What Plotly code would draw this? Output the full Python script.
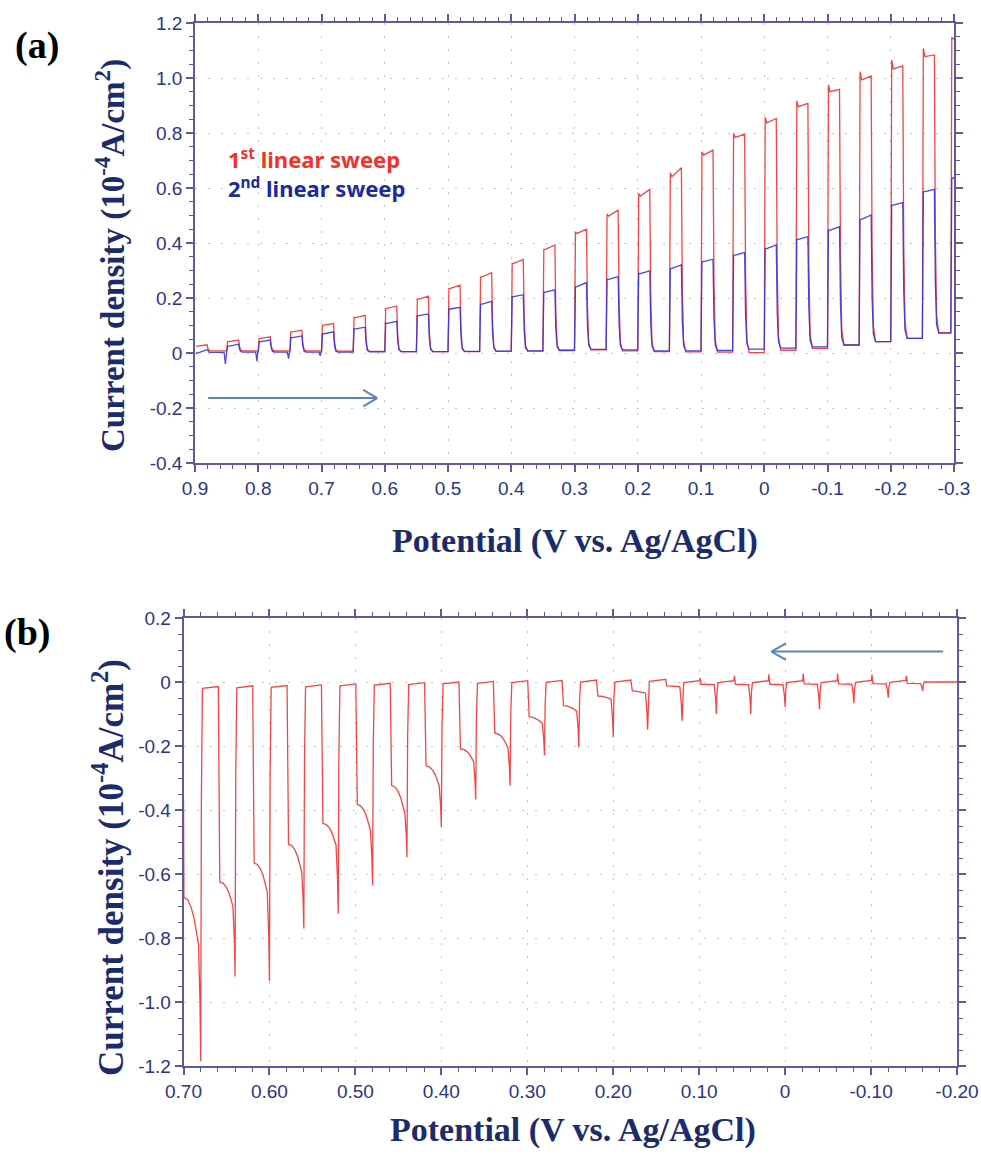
import plotly.graph_objects as go

# ---------------- Panel (a): chopped linear sweeps ----------------
RISE_A = [0.90, 0.85, 0.80, 0.75, 0.70, 0.65, 0.60, 0.55, 0.50, 0.45, 0.40, 0.35, 0.30,
          0.25, 0.20, 0.15, 0.10, 0.05, 0.00, -0.05, -0.10, -0.15, -0.20, -0.25, -0.295]
RED_SPIKE_A = [0.025, 0.041, 0.053, 0.077, 0.101, 0.129, 0.162, 0.196, 0.235, 0.277, 0.326, 0.377,
               0.440, 0.505, 0.580, 0.655, 0.732, 0.799, 0.857, 0.917, 0.975, 1.023, 1.065, 1.108, 1.148]
RED_DIP_A = [0.025, 0.041, 0.053, 0.077, 0.101, 0.129, 0.162, 0.196, 0.235, 0.277, 0.326, 0.377,
             0.435, 0.498, 0.571, 0.641, 0.720, 0.784, 0.837, 0.896, 0.950, 0.993, 1.033, 1.078, 1.140]
RED_END_A = [0.030, 0.047, 0.059, 0.083, 0.107, 0.137, 0.171, 0.207, 0.247, 0.292, 0.340, 0.393,
             0.450, 0.520, 0.595, 0.674, 0.738, 0.796, 0.853, 0.908, 0.959, 1.007, 1.044, 1.084, 1.140]
RED_OFF_A = [0.008, 0.008, 0.008, 0.008, 0.007, 0.006, 0.005, 0.005, 0.005, 0.006, 0.007, 0.009,
             0.011, 0.008, 0.005, 0.004, 0.003, 0.001, 0.010, 0.017, 0.029, 0.041, 0.053, 0.074]

BLUE_START_A = [0.000, 0.025, 0.041, 0.056, 0.070, 0.088, 0.108, 0.136, 0.160, 0.178, 0.205, 0.221,
                0.241, 0.268, 0.289, 0.308, 0.332, 0.356, 0.380, 0.413, 0.447, 0.486, 0.538, 0.587, 0.635]
BLUE_END_A = [0.012, 0.032, 0.047, 0.062, 0.077, 0.094, 0.115, 0.142, 0.166, 0.188, 0.212, 0.230,
              0.256, 0.278, 0.299, 0.320, 0.341, 0.365, 0.393, 0.423, 0.459, 0.502, 0.547, 0.595, 0.640]
BLUE_OFF_A = [0.002, 0.003, 0.003, 0.003, 0.003, 0.004, 0.005, 0.005, 0.006, 0.007, 0.008, 0.010,
              0.013, 0.011, 0.008, 0.008, 0.009, 0.014, 0.018, 0.022, 0.029, 0.041, 0.053, 0.072]
BLUE_NEG_A = [0.0, -0.040, -0.030, -0.020, -0.010, 0.0, 0.0, 0.0, 0.0, 0.0, 0.0, 0.0,
              0.0, 0.0, 0.0, 0.0, 0.0, 0.0, 0.0, 0.0, 0.0, 0.0, 0.0, 0.0, 0.0]

# ---------------- Panel (b): chopped cathodic sweep ----------------
SPIKE_B = [0.68, 0.64, 0.60, 0.56, 0.52, 0.48, 0.44, 0.40, 0.36, 0.32, 0.28, 0.24, 0.20,
           0.16, 0.12, 0.08, 0.04, 0.00, -0.04, -0.08, -0.12, -0.16]
DROP_B = [-0.673, -0.625, -0.566, -0.507, -0.442, -0.383, -0.324, -0.262, -0.209, -0.160, -0.109,
          -0.074, -0.044, -0.028, -0.012, -0.007, -0.007, -0.007, -0.006, -0.006, -0.005, -0.004]
PRE_B = [-0.820, -0.700, -0.657, -0.593, -0.510, -0.463, -0.410, -0.324, -0.248, -0.205, -0.130,
         -0.092, -0.054, -0.035, -0.015, -0.008, -0.008, -0.008, -0.007, -0.007, -0.006, -0.005]
MIN_B = [-1.184, -0.920, -0.934, -0.770, -0.724, -0.636, -0.547, -0.453, -0.367, -0.324, -0.229,
         -0.203, -0.173, -0.149, -0.121, -0.100, -0.100, -0.078, -0.085, -0.066, -0.049, -0.028]
BUMP_B = [0.0, 0.0, 0.0, 0.0, 0.0, 0.0, 0.0, 0.0, 0.0, 0.0, 0.0, 0.0, 0.0,
          0.0, 0.010, 0.013, 0.019, 0.024, 0.026, 0.026, 0.023, 0.019]
PLAT_B = [-0.020, -0.018, -0.017, -0.015, -0.012, -0.010, -0.008, -0.006, -0.004, -0.002, -0.001,
          0.000, 0.000, 0.002, -0.002, -0.002, -0.002, -0.002, -0.002, -0.001, -0.001, 0.000]
START_B = -0.37

# Axis ticks
XT_A = [0.9, 0.8, 0.7, 0.6, 0.5, 0.4, 0.3, 0.2, 0.1, 0.0, -0.1, -0.2, -0.3]
XT_A_TXT = ["0.9", "0.8", "0.7", "0.6", "0.5", "0.4", "0.3", "0.2", "0.1", "0", "-0.1", "-0.2", "-0.3"]
YT_A = [1.2, 1.0, 0.8, 0.6, 0.4, 0.2, 0.0, -0.2, -0.4]
YT_A_TXT = ["1.2", "1.0", "0.8", "0.6", "0.4", "0.2", "0", "-0.2", "-0.4"]
XT_B = [0.7, 0.6, 0.5, 0.4, 0.3, 0.2, 0.1, 0.0, -0.1, -0.2]
XT_B_TXT = ["0.70", "0.60", "0.50", "0.40", "0.30", "0.20", "0.10", "0", "-0.10", "-0.20"]
YT_B = [0.2, 0.0, -0.2, -0.4, -0.6, -0.8, -1.0, -1.2]
YT_B_TXT = ["0.2", "0", "-0.2", "-0.4", "-0.6", "-0.8", "-1.0", "-1.2"]

# Arrows (tail x, tip x, y)
ARROW_A = (0.879, 0.612, -0.164)
ARROW_B = (-0.184, 0.016, 0.095)


def build_a(spike, dip, end, off, neg, xmin=-0.30):
    xs, ys = [], []
    for k, r in enumerate(RISE_A):
        if k > 0:
            prev = off[k - 1]
            if neg[k] != 0:
                xs += [r + 0.004, r + 0.002, r + 0.0008]
                ys += [prev, neg[k], prev]
            xs.append(r); ys.append(prev)
        pts = [(r - 0.0015, spike[k]), (r - 0.004, dip[k]), (r - 0.019, end[k])]
        if k < len(off):
            e, o = end[k], off[k]
            pts += [(r - 0.0205, o + 0.35 * (e - o)), (r - 0.0225, o + 0.06 * (e - o)),
                    (r - 0.026, o)]
        for px, py in pts:
            if px >= xmin:
                xs.append(px); ys.append(py)
            else:
                xs.append(xmin); ys.append(py)
                break
    return xs, ys


def build_b():
    xs, ys = [], []
    for k, s in enumerate(SPIKE_B):
        d, p, m = DROP_B[k], PRE_B[k], MIN_B[k]
        if k == 0:
            xs += [0.70, 0.6995]; ys += [START_B, d]
            x0 = 0.6995
        else:
            plat = PLAT_B[k - 1]
            xs.append(s + 0.0195); ys.append(plat + 0.006)
            if BUMP_B[k] != 0:
                xs += [s + 0.019, s + 0.0178]; ys += [BUMP_B[k], d]
            else:
                xs.append(s + 0.0178); ys.append(d)
            x0 = s + 0.0178
        x1 = s + 0.0025
        for t in (0.25, 0.5, 0.7, 0.85, 1.0):
            xs.append(x0 + (x1 - x0) * t)
            ys.append(d + (p - d) * t ** 2.2)
        xs += [s + 0.0008, s, s - 0.0008, s - 0.002]
        ys += [p + 0.5 * (m - p), m, PLAT_B[k] + 0.3 * (m - PLAT_B[k]), PLAT_B[k]]
    xs.append(-0.20); ys.append(PLAT_B[-1])
    return xs, ys


RED = "#f24646"
BLUE = "#3535d8"
AX = "#5c5c9c"
TICKC = "#2c3585"
TITLEC = "#1b2b6b"
GRID = "#c4c4c4"
ARROWC = "#5b86b3"

fig = go.Figure()
rx, ry = build_a(RED_SPIKE_A, RED_DIP_A, RED_END_A, RED_OFF_A, [0.0] * len(RISE_A))
bx, by = build_a(BLUE_START_A, BLUE_START_A, BLUE_END_A, BLUE_OFF_A, BLUE_NEG_A)
fig.add_trace(go.Scatter(x=rx, y=ry, mode="lines", line=dict(color=RED, width=1.3),
                         xaxis="x", yaxis="y", showlegend=False))
fig.add_trace(go.Scatter(x=bx, y=by, mode="lines", line=dict(color=BLUE, width=1.3),
                         xaxis="x", yaxis="y", showlegend=False, opacity=0.9))
cx, cy = build_b()
fig.add_trace(go.Scatter(x=cx, y=cy, mode="lines", line=dict(color=RED, width=1.3),
                         xaxis="x2", yaxis="y2", showlegend=False))

W, H = 981, 1154
dom_xa = [195 / W, 954 / W]
dom_ya = [1 - 463 / H, 1 - 23 / H]
dom_xb = [183.5 / W, 957 / W]
dom_yb = [1 - 1066 / H, 1 - 618 / H]

tickfont = dict(family="Liberation Sans, Arial, sans-serif", size=19, color=TICKC)


def axis_common(**kw):
    d = dict(showline=True, linecolor=AX, linewidth=1.5, mirror="allticks", ticks="outside",
             ticklen=7, tickwidth=1.5, tickcolor=AX, tickfont=tickfont, automargin=False,
             showgrid=True, gridcolor=GRID, gridwidth=1, griddash="2px,11px",
             zeroline=False, tickmode="array")
    d.update(kw)
    return d


def minor(dt):
    return dict(tickmode="linear", tick0=0, dtick=dt, ticks="outside",
                ticklen=4, tickwidth=1.2, tickcolor=AX, showgrid=False)


fig.update_layout(
    width=W, height=H, margin=dict(l=0, r=0, t=0, b=0),
    paper_bgcolor="white", plot_bgcolor="white",
    xaxis=axis_common(domain=dom_xa, range=[0.9, -0.3], tickvals=XT_A, ticktext=XT_A_TXT,
                      anchor="y", minor=minor(0.02)),
    yaxis=axis_common(domain=dom_ya, range=[-0.4, 1.2], tickvals=YT_A, ticktext=YT_A_TXT,
                      anchor="x", minor=minor(0.05)),
    xaxis2=axis_common(domain=dom_xb, range=[0.7, -0.2], tickvals=XT_B, ticktext=XT_B_TXT,
                       anchor="y2", minor=minor(0.02)),
    yaxis2=axis_common(domain=dom_yb, range=[-1.2, 0.2], tickvals=YT_B, ticktext=YT_B_TXT,
                       anchor="x2", minor=minor(0.05)),
)

serif_b = "Liberation Serif, Times New Roman, serif"
YTITLE = "<b>Current density (10<sup>-4</sup>A/cm<sup>2</sup>)</b>"
XTITLE = "<b>Potential (V vs. Ag/AgCl)</b>"
anns = [
    dict(text="<b>(a)</b>", x=37 / W, y=1 - 46 / H, font=dict(family=serif_b, size=38, color="black")),
    dict(text="<b>(b)</b>", x=27 / W, y=1 - 632 / H, font=dict(family=serif_b, size=38, color="black")),
    dict(text=YTITLE, x=110 / W, y=1 - 256 / H, textangle=-90,
         font=dict(family=serif_b, size=33, color=TITLEC)),
    dict(text=YTITLE, x=108 / W, y=1 - 868 / H, textangle=-90,
         font=dict(family=serif_b, size=35, color=TITLEC)),
    dict(text=XTITLE, x=575 / W, y=1 - 541 / H, font=dict(family=serif_b, size=34, color=TITLEC)),
    dict(text=XTITLE, x=573 / W, y=1 - 1130 / H, font=dict(family=serif_b, size=34, color=TITLEC)),
    dict(text="<b>1<sup>st</sup> linear sweep</b>", x=226 / W, y=1 - 159 / H, xanchor="left",
         font=dict(family="Noto Sans, Open Sans, sans-serif", size=22, color="#f0322a")),
    dict(text="<b>2<sup>nd</sup> linear sweep</b>", x=226 / W, y=1 - 188 / H, xanchor="left",
         font=dict(family="Noto Sans, Open Sans, sans-serif", size=22, color="#1c2a9a")),
]
for a in anns:
    a.setdefault("xanchor", "center")
    a.update(xref="paper", yref="paper", yanchor="middle", showarrow=False)
fig.update_layout(annotations=anns)

# arrows as shapes (line + open chevron head)
shapes = []
ta, tipa, ya = ARROW_A
shapes.append(dict(type="line", xref="x", yref="y", x0=ta, x1=tipa, y0=ya, y1=ya,
                   line=dict(color=ARROWC, width=2)))
hx_a, hy_a = 0.022, 0.030
for sgn in (1, -1):
    shapes.append(dict(type="line", xref="x", yref="y", x0=tipa + hx_a, x1=tipa,
                       y0=ya + sgn * hy_a, y1=ya, line=dict(color=ARROWC, width=2)))
tb, tipb, yb = ARROW_B
shapes.append(dict(type="line", xref="x2", yref="y2", x0=tb, x1=tipb, y0=yb, y1=yb,
                   line=dict(color=ARROWC, width=2)))
hx_b, hy_b = 0.017, 0.026
for sgn in (1, -1):
    shapes.append(dict(type="line", xref="x2", yref="y2", x0=tipb - hx_b, x1=tipb,
                       y0=yb + sgn * hy_b, y1=yb, line=dict(color=ARROWC, width=2)))
fig.update_layout(shapes=shapes)

fig.write_html("out.html")
